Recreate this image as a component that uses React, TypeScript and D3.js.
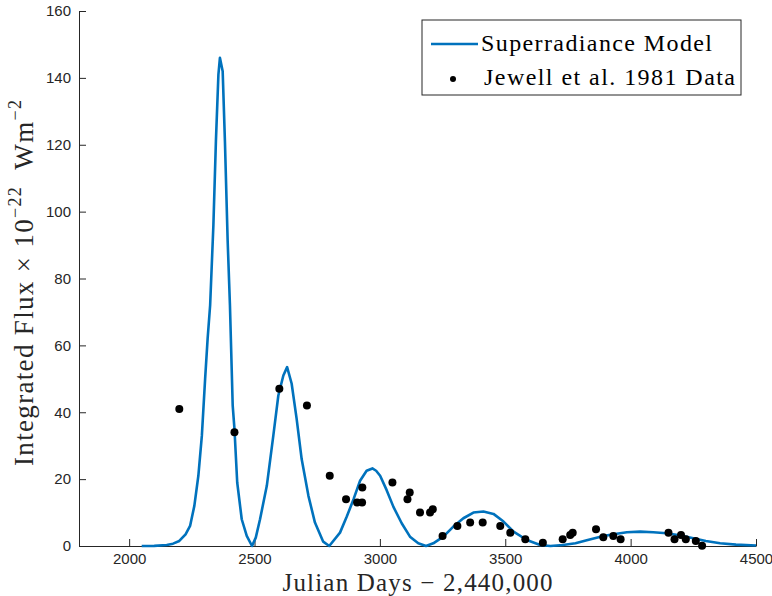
import React, { useEffect, useRef } from "react";
import * as d3 from "d3";

// superradiance model curve: [julian day - 2440000, flux]
const modelDays = [
  2050, 2100, 2150, 2175, 2200, 2225, 2243, 2260, 2276, 2290, 2303, 2313, 2323, 2336, 2346, 2356, 2362,
  2373, 2382, 2393, 2402, 2413, 2420, 2431, 2449, 2469, 2490, 2505, 2522, 2549, 2575, 2595, 2615, 2630,
  2648, 2668, 2688, 2715, 2741, 2774, 2798, 2841, 2868, 2895, 2921, 2947, 2970, 2985, 3001, 3027, 3054,
  3087, 3120, 3153, 3184, 3213, 3253, 3293, 3333, 3373, 3413, 3453, 3493, 3533, 3586, 3639, 3680, 3730,
  3780, 3825, 3880, 3931, 3985, 4038, 4090, 4144, 4200, 4250, 4300, 4357, 4420, 4500,
];
const modelFlux = [
  0, 0.05, 0.3, 0.7, 1.5, 3.5, 6, 12, 21, 33, 50, 62, 72, 96, 121, 141, 146,
  142, 121, 91, 72, 42, 35, 19, 8, 3, 0, 2.5, 8, 18, 33, 45, 51, 53.5,
  48.6, 38, 26, 15, 7, 1.3, 0, 4, 8.8, 14, 19.5, 22.5, 23.2, 22.5, 21, 16.7, 11.7,
  6.8, 2.8, 0.8, 0, 0.8, 2.8, 5.8, 8.3, 10, 10.3, 9.6, 7.3, 4.3, 1.8, 0.3, 0, 0.3,
  0.8, 1.7, 2.8, 3.5, 4.1, 4.3, 4.1, 3.8, 3.1, 2.3, 1.5, 0.8, 0.4, 0.15,
];

// Jewell et al. 1981 observations
const obsDays = [
  2200, 2420, 2599, 2709, 2800, 2865, 2909, 2929, 2930, 3050, 3110, 3119, 3160, 3200, 3211, 3250,
  3309, 3360, 3410, 3480, 3520, 3580, 3650, 3729, 3759, 3769, 3862, 3891, 3931, 3960, 4151, 4175,
  4201, 4220, 4260, 4285,
];
const obsFlux = [
  41, 34, 47, 42, 21, 14, 13, 13, 17.5, 19, 14, 16, 10, 10, 11, 3,
  6, 7, 7, 6, 4, 2, 1, 2, 3.3, 4, 5, 2.6, 3, 2, 4, 2,
  3.3, 2, 1.5, 0.1,
];

const xTicks = [2000, 2500, 3000, 3500, 4000, 4500];
const yTicks = [0, 20, 40, 60, 80, 100, 120, 140, 160];

const W = 772;
const H = 596;
const left = 79, right = 756, top = 11, bottom = 546;
const axisColor = "#262626";
const blue = "#0072BD";
const serif = "'Liberation Serif', serif";

export default function App() {
  const xAxisRef = useRef<SVGGElement>(null);
  const yAxisRef = useRef<SVGGElement>(null);

  const x = d3.scaleLinear().domain([1800, 4500]).range([left, right]);
  const y = d3.scaleLinear().domain([0, 160]).range([bottom, top]);

  const model = modelDays.map((d, i) => [d, modelFlux[i]] as [number, number]);
  const obs = obsDays.map((d, i) => ({ day: d, flux: obsFlux[i] }));

  const line = d3.line<[number, number]>()
    .x(d => x(d[0]))
    .y(d => y(d[1]));

  useEffect(() => {
    const xa = d3.select(xAxisRef.current!);
    xa.call(
      d3.axisBottom(x).tickValues(xTicks).tickFormat(d3.format("d"))
        .tickSizeInner(-7).tickSizeOuter(0).tickPadding(7) as any
    );
    const ya = d3.select(yAxisRef.current!);
    ya.call(
      d3.axisLeft(y).tickValues(yTicks).tickFormat(d3.format("d"))
        .tickSizeInner(-7).tickSizeOuter(0).tickPadding(8) as any
    );
    [xa, ya].forEach(g => {
      g.selectAll("path, line").attr("stroke", axisColor).attr("stroke-width", 1);
      g.selectAll("text")
        .attr("fill", axisColor)
        .style("font-family", "'Liberation Sans', Arial, sans-serif")
        .style("font-size", "15px");
    });
  }, []);

  return (
    <svg width={W} height={H} style={{ position: "absolute", left: 0, top: 0, background: "#fff" }}>
      <rect width={W} height={H} fill="#fff" />
      <g ref={xAxisRef} transform={`translate(0,${bottom})`} />
      <g ref={yAxisRef} transform={`translate(${left},0)`} />

      <path d={line(model) ?? ""} fill="none" stroke={blue} strokeWidth={2.6} strokeLinejoin="round" />
      {obs.map((d, i) => (
        <circle key={i} cx={x(d.day)} cy={y(d.flux)} r={4} fill="#000" />
      ))}

      {/* axis titles */}
      <text x={(left + right) / 2} y={591} textAnchor="middle" fontFamily={serif} fontSize={25}
        fill={axisColor} textLength={270} lengthAdjust="spacing">
        Julian Days − 2,440,000
      </text>
      <text transform="translate(33,283) rotate(-90)" textAnchor="middle" fontFamily={serif} fontSize={27}
        fill={axisColor} textLength={366} lengthAdjust="spacing">
        Integrated Flux × 10
        <tspan dy={-12} fontSize={18}>−22</tspan>
        <tspan dy={12} fontSize={27}>{"\u00a0\u00a0Wm"}</tspan>
        <tspan dy={-12} fontSize={18}>−2</tspan>
      </text>

      {/* legend */}
      <rect x={422} y={20} width={319} height={75} fill="#fff" stroke={axisColor} strokeWidth={1} />
      <line x1={431} x2={478} y1={44} y2={44} stroke={blue} strokeWidth={2.6} />
      <text x={481} y={51} fontFamily={serif} fontSize={24} fill="#000" textLength={231} lengthAdjust="spacing">
        Superradiance Model
      </text>
      <circle cx={453} cy={79} r={3} fill="#000" />
      <text x={484} y={85} fontFamily={serif} fontSize={24} fill="#000" textLength={251} lengthAdjust="spacing">
        Jewell et al. 1981 Data
      </text>
    </svg>
  );
}
